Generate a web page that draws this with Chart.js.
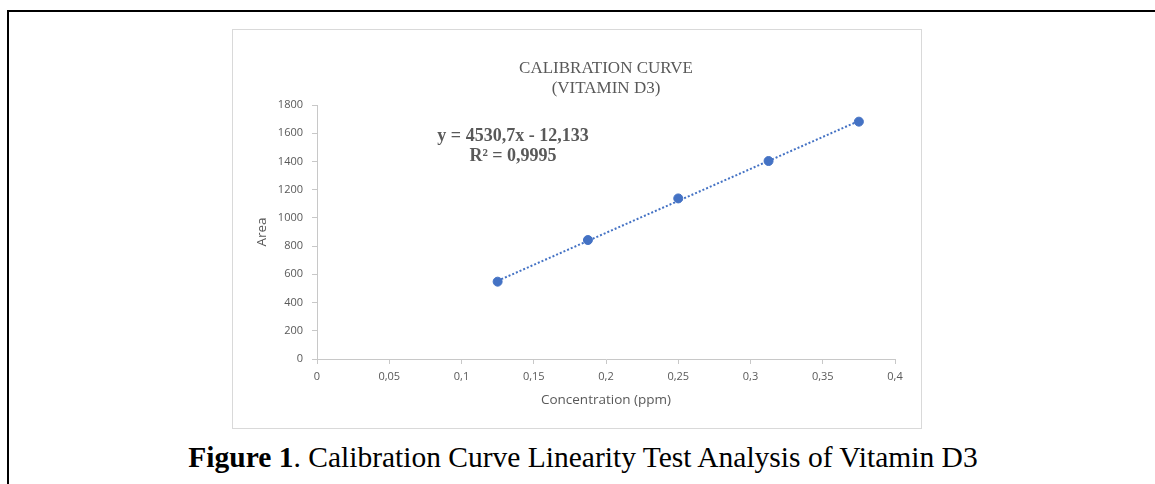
<!DOCTYPE html>
<html lang="en">

<head>
    <meta charset="UTF-8">
    <title>Calibration Curve</title>
    <script src="https://cdn.jsdelivr.net/npm/chart.js@4.4.0/dist/chart.umd.min.js"></script>
    <style>
        body { margin: 0; background: #fff; width: 1155px; height: 484px; overflow: hidden; position: relative; }
        #frame { position: absolute; left: 7px; top: 10px; width: 1300px; height: 600px; border-top: 2px solid #000; border-left: 2px solid #000; }
        #box { position: absolute; left: 232px; top: 29px; width: 688px; height: 398px; border: 1px solid #d9d9d9; }
        #caption { position: absolute; left: 0; width: 1166px; top: 443px; text-align: center; font-family: "Liberation Serif", "Times New Roman", serif; font-size: 29.5px; line-height: 28px; color: #000; }
    </style>
</head>

<body>
    <div id="frame"></div>
    <div id="box"><canvas id="myChart"></canvas></div>
    <div id="caption"><b>Figure 1</b>. Calibration Curve Linearity Test Analysis of Vitamin D3</div>
</body>
<script>
    // values
    const concentration = [0.125, 0.1875, 0.25, 0.3125, 0.375];
    const area = [548, 843, 1138, 1403, 1682];
    // linear trendline, ends at first and last standard
    const trendX = [0.125, 0.375];
    const trendY = [554, 1687];
    const xTickLabels = ['0', '0,05', '0,1', '0,15', '0,2', '0,25', '0,3', '0,35', '0,4'];
    const yTickLabels = ['0', '200', '400', '600', '800', '1000', '1200', '1400', '1600', '1800'];
    const titleLines = ['CALIBRATION CURVE', '(VITAMIN D3)'];
    const equationLines = ['y = 4530,7x - 12,133', 'R\u00b2 = 0,9995'];

    const grey = '#595959';
    const blue = '#4472C4';

    // draws the trendline equation label like excel does
    const equationLabel = {
        id: 'equationLabel',
        afterDraw(chart) {
            const ctx = chart.ctx;
            const a = chart.chartArea;
            ctx.save();
            ctx.fillStyle = grey;
            ctx.font = 'bold 18px "Liberation Serif"';
            ctx.textAlign = 'center';
            ctx.textBaseline = 'middle';
            ctx.fillText(equationLines[0], a.left + 196, a.top + 31);
            ctx.fillText(equationLines[1], a.left + 196, a.top + 51);
            ctx.restore();
        }
    };

    const ctx = document.getElementById('myChart').getContext('2d');
    const chart = new Chart(ctx, {
        type: 'scatter',
        data: {
            datasets: [{
                label: 'Area',
                data: concentration.map((c, i) => ({ x: c, y: area[i] })),
                backgroundColor: blue,
                borderColor: blue,
                pointRadius: 4.5,
                order: 1
            }, {
                label: 'Linear (Area)',
                data: trendX.map((c, i) => ({ x: c, y: trendY[i] })),
                showLine: true,
                borderColor: blue,
                borderWidth: 2,
                borderDash: [2, 2],
                pointRadius: 0,
                order: 2
            }]
        },
        options: {
            responsive: true,
            maintainAspectRatio: false,
            animation: false,
            layout: { padding: { left: 0, top: 0, right: 26, bottom: 0 } },
            plugins: {
                legend: { display: false },
                tooltip: { enabled: false },
                title: {
                    display: true,
                    fullSize: false,
                    text: titleLines,
                    color: grey,
                    font: { family: '"Liberation Serif"', size: 17, weight: 'normal', lineHeight: '20px' },
                    padding: { top: 29, bottom: 6 }
                }
            },
            scales: {
                x: {
                    type: 'linear',
                    min: 0,
                    max: 0.4,
                    afterFit: (scale) => { scale.height = 69; },
                    afterBuildTicks: (scale) => {
                        scale.ticks = xTickLabels.map((t, i) => ({ value: i * 0.05 }));
                    },
                    ticks: {
                        color: grey,
                        padding: 6,
                        font: { family: '"Open Sans"', size: 11 },
                        callback: (v, i) => xTickLabels[i]
                    },
                    grid: { display: true, drawOnChartArea: false, drawTicks: true, tickLength: 5, color: '#c8c8c8' },
                    border: { color: '#c8c8c8', width: 1 },
                    title: {
                        display: true,
                        text: 'Concentration (ppm)',
                        color: grey,
                        font: { family: '"Open Sans"', size: 13.5 },
                        padding: { top: 0, bottom: 20 }
                    }
                },
                y: {
                    min: 0,
                    max: 1800,
                    afterFit: (scale) => { scale.width = 84; },
                    ticks: {
                        stepSize: 200,
                        color: grey,
                        padding: 9,
                        font: { family: '"Open Sans"', size: 11 },
                        callback: (v, i) => yTickLabels[i]
                    },
                    grid: { display: true, drawOnChartArea: false, drawTicks: true, tickLength: 5, color: '#c8c8c8' },
                    border: { color: '#c8c8c8', width: 1 },
                    title: {
                        display: true,
                        text: 'Area',
                        color: grey,
                        font: { family: '"Open Sans"', size: 13.5 },
                        padding: { top: 21, bottom: 0 }
                    }
                }
            }
        },
        plugins: [equationLabel]
    });
</script>

</html>
